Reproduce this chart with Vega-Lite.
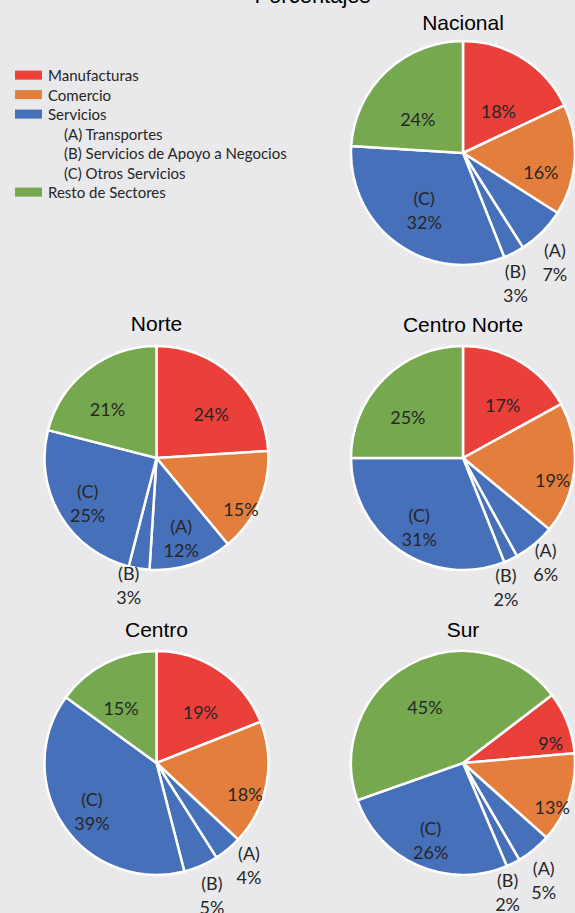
{
  "$schema": "https://vega.github.io/schema/vega-lite/v6.json",
  "background": "#e9e9eb",
  "padding": {"left": 15, "top": -15, "right": 0, "bottom": 0},
  "title": {"text": "Porcentajes", "fontSize": 22, "font": "Liberation Sans", "fontWeight": "normal", "color": "#000000", "anchor": "middle", "dx": 15, "offset": 5},
  "datasets": {
    "sectores": [
      {"region": "Nacional", "segmento": "Manufacturas", "sector": "Manufacturas", "valor": 18, "orden": 1, "etiqueta": "18%"},
      {"region": "Nacional", "segmento": "Comercio", "sector": "Comercio", "valor": 16, "orden": 2, "etiqueta": "16%"},
      {"region": "Nacional", "segmento": "(A) Transportes", "sector": "Servicios", "valor": 7, "orden": 3, "etiqueta": "(A)\n7%"},
      {"region": "Nacional", "segmento": "(B) Servicios de Apoyo a Negocios", "sector": "Servicios", "valor": 3, "orden": 4, "etiqueta": "(B)\n3%"},
      {"region": "Nacional", "segmento": "(C) Otros Servicios", "sector": "Servicios", "valor": 32, "orden": 5, "etiqueta": "(C)\n32%"},
      {"region": "Nacional", "segmento": "Resto de Sectores", "sector": "Resto de Sectores", "valor": 24, "orden": 6, "etiqueta": "24%"},
      {"region": "Norte", "segmento": "Manufacturas", "sector": "Manufacturas", "valor": 24, "orden": 1, "etiqueta": "24%"},
      {"region": "Norte", "segmento": "Comercio", "sector": "Comercio", "valor": 15, "orden": 2, "etiqueta": "15%"},
      {"region": "Norte", "segmento": "(A) Transportes", "sector": "Servicios", "valor": 12, "orden": 3, "etiqueta": "(A)\n12%"},
      {"region": "Norte", "segmento": "(B) Servicios de Apoyo a Negocios", "sector": "Servicios", "valor": 3, "orden": 4, "etiqueta": "(B)\n3%"},
      {"region": "Norte", "segmento": "(C) Otros Servicios", "sector": "Servicios", "valor": 25, "orden": 5, "etiqueta": "(C)\n25%"},
      {"region": "Norte", "segmento": "Resto de Sectores", "sector": "Resto de Sectores", "valor": 21, "orden": 6, "etiqueta": "21%"},
      {"region": "Centro Norte", "segmento": "Manufacturas", "sector": "Manufacturas", "valor": 17, "orden": 1, "etiqueta": "17%"},
      {"region": "Centro Norte", "segmento": "Comercio", "sector": "Comercio", "valor": 19, "orden": 2, "etiqueta": "19%"},
      {"region": "Centro Norte", "segmento": "(A) Transportes", "sector": "Servicios", "valor": 6, "orden": 3, "etiqueta": "(A)\n6%"},
      {"region": "Centro Norte", "segmento": "(B) Servicios de Apoyo a Negocios", "sector": "Servicios", "valor": 2, "orden": 4, "etiqueta": "(B)\n2%"},
      {"region": "Centro Norte", "segmento": "(C) Otros Servicios", "sector": "Servicios", "valor": 31, "orden": 5, "etiqueta": "(C)\n31%"},
      {"region": "Centro Norte", "segmento": "Resto de Sectores", "sector": "Resto de Sectores", "valor": 25, "orden": 6, "etiqueta": "25%"},
      {"region": "Centro", "segmento": "Manufacturas", "sector": "Manufacturas", "valor": 19, "orden": 1, "etiqueta": "19%"},
      {"region": "Centro", "segmento": "Comercio", "sector": "Comercio", "valor": 18, "orden": 2, "etiqueta": "18%"},
      {"region": "Centro", "segmento": "(A) Transportes", "sector": "Servicios", "valor": 4, "orden": 3, "etiqueta": "(A)\n4%"},
      {"region": "Centro", "segmento": "(B) Servicios de Apoyo a Negocios", "sector": "Servicios", "valor": 5, "orden": 4, "etiqueta": "(B)\n5%"},
      {"region": "Centro", "segmento": "(C) Otros Servicios", "sector": "Servicios", "valor": 39, "orden": 5, "etiqueta": "(C)\n39%"},
      {"region": "Centro", "segmento": "Resto de Sectores", "sector": "Resto de Sectores", "valor": 15, "orden": 6, "etiqueta": "15%"},
      {"region": "Sur", "segmento": "Manufacturas", "sector": "Manufacturas", "valor": 9, "orden": 1, "etiqueta": "9%"},
      {"region": "Sur", "segmento": "Comercio", "sector": "Comercio", "valor": 13, "orden": 2, "etiqueta": "13%"},
      {"region": "Sur", "segmento": "(A) Transportes", "sector": "Servicios", "valor": 5, "orden": 3, "etiqueta": "(A)\n5%"},
      {"region": "Sur", "segmento": "(B) Servicios de Apoyo a Negocios", "sector": "Servicios", "valor": 2, "orden": 4, "etiqueta": "(B)\n2%"},
      {"region": "Sur", "segmento": "(C) Otros Servicios", "sector": "Servicios", "valor": 26, "orden": 5, "etiqueta": "(C)\n26%"},
      {"region": "Sur", "segmento": "Resto de Sectores", "sector": "Resto de Sectores", "valor": 45, "orden": 6, "etiqueta": "45%"}
    ],
    "leyenda": [
      {"item": "Manufacturas", "nivel": "principal", "sector": "Manufacturas"},
      {"item": "Comercio", "nivel": "principal", "sector": "Comercio"},
      {"item": "Servicios", "nivel": "principal", "sector": "Servicios"},
      {"item": "(A) Transportes", "nivel": "sub", "sector": "Servicios"},
      {"item": "(B) Servicios de Apoyo a Negocios", "nivel": "sub", "sector": "Servicios"},
      {"item": "(C) Otros Servicios", "nivel": "sub", "sector": "Servicios"},
      {"item": "Resto de Sectores", "nivel": "principal", "sector": "Resto de Sectores"}
    ]
  },
  "columns": 2,
  "align": "each",
  "bounds": "flush",
  "spacing": {"row": 81, "column": 53},
  "concat": [
    {
      "width": 283, "height": 224,
      "data": {"name": "leyenda"},
      "encoding": {
        "y": {"field": "item", "type": "nominal", "axis": null, "scale": {"type": "point", "domain": ["Manufacturas", "Comercio", "Servicios", "(A) Transportes", "(B) Servicios de Apoyo a Negocios", "(C) Otros Servicios", "Resto de Sectores"], "range": [35, 152], "padding": 0}}
      },
      "layer": [
        {
          "transform": [{"filter": "datum.nivel == 'principal'"}],
          "mark": {"type": "point", "shape": "M-1.259,-0.4H0.741V0.27H-1.259Z", "size": 729, "filled": true, "opacity": 1, "strokeWidth": 0},
          "encoding": {
            "x": {"datum": "muestra", "type": "nominal", "axis": null, "scale": {"type": "point", "domain": ["muestra", "principal", "sub"], "range": [17, 49], "padding": 0}},
            "color": {"field": "sector", "type": "nominal", "legend": null, "scale": {"domain": ["Manufacturas", "Comercio", "Servicios", "Resto de Sectores"], "range": ["#eb3f3a", "#e47e3c", "#4670b9", "#76a94f"]}}
          }
        },
        {
          "mark": {"type": "text", "align": "left", "baseline": "middle", "font": "Lato", "fontSize": 15, "fill": "#262626"},
          "encoding": {
            "x": {"field": "nivel", "type": "nominal", "axis": null, "scale": {"type": "point", "domain": ["muestra", "principal", "sub"], "range": [17, 49], "padding": 0}},
            "text": {"field": "item"}
          }
        }
      ]
    },
    {
      "title": {"text": "Nacional", "offset": 2},
      "width": 224, "height": 224,
      "data": {"name": "sectores"},
      "transform": [{"filter": "datum.region == 'Nacional'"}],
      "encoding": {
        "theta": {"field": "valor", "type": "quantitative", "stack": true},
        "order": {"field": "orden", "type": "quantitative"},
        "detail": {"field": "segmento"}
      },
      "layer": [
        {"mark": {"type": "arc", "outerRadius": 112, "stroke": "#ffffff", "strokeWidth": 2.5},
         "encoding": {"color": {"field": "sector", "type": "nominal", "legend": null, "scale": {"domain": ["Manufacturas", "Comercio", "Servicios", "Resto de Sectores"], "range": ["#eb3f3a", "#e47e3c", "#4670b9", "#76a94f"]}}}},
        {"mark": {"type": "text",
                  "radius": {"expr": "datum.valor < 8 ? 144 : (datum.orden == 2 || datum.valor < 10 ? 78 : 66)"},
                  "dx": {"expr": "datum.valor < 8 ? (datum.orden == 3 ? -10 : -13) : 0"},
                  "dy": {"expr": "datum.valor < 8 ? (datum.orden == 3 ? -3 : -8) : (datum.sector == 'Servicios' ? -6 : 16)"},
                  "font": "Lato", "fontSize": 18, "fill": "#262626", "lineBreak": "\n", "lineHeight": 24, "baseline": "middle"},
         "encoding": {"text": {"field": "etiqueta"}}}
      ]
    },
    {
      "title": {"text": "Norte", "offset": 6},
      "width": 283, "height": 224,
      "data": {"name": "sectores"},
      "transform": [{"filter": "datum.region == 'Norte'"}],
      "encoding": {
        "theta": {"field": "valor", "type": "quantitative", "stack": true},
        "order": {"field": "orden", "type": "quantitative"},
        "detail": {"field": "segmento"}
      },
      "layer": [
        {"mark": {"type": "arc", "outerRadius": 112, "stroke": "#ffffff", "strokeWidth": 2.5},
         "encoding": {"color": {"field": "sector", "type": "nominal", "legend": null, "scale": {"domain": ["Manufacturas", "Comercio", "Servicios", "Resto de Sectores"], "range": ["#eb3f3a", "#e47e3c", "#4670b9", "#76a94f"]}}}},
        {"mark": {"type": "text",
                  "radius": {"expr": "datum.valor < 8 ? 133 : (datum.orden == 2 || datum.valor < 10 ? 92 : 80)"},
                  "dx": {"expr": "datum.valor < 8 ? -7 : 0"},
                  "dy": {"expr": "datum.valor < 8 ? -14 : (datum.sector == 'Servicios' ? -6 : 16)"},
                  "font": "Lato", "fontSize": 18, "fill": "#262626", "lineBreak": "\n", "lineHeight": 24, "baseline": "middle"},
         "encoding": {"text": {"field": "etiqueta"}}}
      ]
    },
    {
      "title": {"text": "Centro Norte", "offset": 5},
      "width": 224, "height": 224,
      "data": {"name": "sectores"},
      "transform": [{"filter": "datum.region == 'Centro Norte'"}],
      "encoding": {
        "theta": {"field": "valor", "type": "quantitative", "stack": true},
        "order": {"field": "orden", "type": "quantitative"},
        "detail": {"field": "segmento"}
      },
      "layer": [
        {"mark": {"type": "arc", "outerRadius": 112, "stroke": "#ffffff", "strokeWidth": 2.5},
         "encoding": {"color": {"field": "sector", "type": "nominal", "legend": null, "scale": {"domain": ["Manufacturas", "Comercio", "Servicios", "Resto de Sectores"], "range": ["#eb3f3a", "#e47e3c", "#4670b9", "#76a94f"]}}}},
        {"mark": {"type": "text",
                  "radius": {"expr": "datum.valor < 8 ? 136 : (datum.orden == 2 || datum.valor < 10 ? 90 : 78)"},
                  "dx": {"expr": "datum.valor < 8 ? (datum.orden == 3 ? -4 : -15) : 0"},
                  "dy": {"expr": "datum.valor < 8 ? (datum.orden == 3 ? -11 : -4) : (datum.sector == 'Servicios' ? -6 : 16)"},
                  "font": "Lato", "fontSize": 18, "fill": "#262626", "lineBreak": "\n", "lineHeight": 24, "baseline": "middle"},
         "encoding": {"text": {"field": "etiqueta"}}}
      ]
    },
    {
      "title": {"text": "Centro", "offset": 5},
      "width": 283, "height": 224,
      "data": {"name": "sectores"},
      "transform": [{"filter": "datum.region == 'Centro'"}],
      "encoding": {
        "theta": {"field": "valor", "type": "quantitative", "stack": true},
        "order": {"field": "orden", "type": "quantitative"},
        "detail": {"field": "segmento"}
      },
      "layer": [
        {"mark": {"type": "arc", "outerRadius": 112, "stroke": "#ffffff", "strokeWidth": 2.5},
         "encoding": {"color": {"field": "sector", "type": "nominal", "legend": null, "scale": {"domain": ["Manufacturas", "Comercio", "Servicios", "Resto de Sectores"], "range": ["#eb3f3a", "#e47e3c", "#4670b9", "#76a94f"]}}}},
        {"mark": {"type": "text",
                  "radius": {"expr": "datum.valor < 8 ? 142 : (datum.orden == 2 || datum.valor < 10 ? 90 : 78)"},
                  "dx": {"expr": "datum.valor < 8 ? (datum.orden == 3 ? 2 : -1) : 0"},
                  "dy": {"expr": "datum.valor < 8 ? (datum.orden == 3 ? -17 : -8) : (datum.sector == 'Servicios' ? -6 : 16)"},
                  "font": "Lato", "fontSize": 18, "fill": "#262626", "lineBreak": "\n", "lineHeight": 24, "baseline": "middle"},
         "encoding": {"text": {"field": "etiqueta"}}}
      ]
    },
    {
      "title": {"text": "Sur", "offset": 5},
      "width": 224, "height": 224,
      "data": {"name": "sectores"},
      "transform": [{"filter": "datum.region == 'Sur'"}],
      "encoding": {
        "theta": {"field": "valor", "type": "quantitative", "stack": true, "scale": {"range": [0.918, 7.2012]}},
        "order": {"field": "orden", "type": "quantitative"},
        "detail": {"field": "segmento"}
      },
      "layer": [
        {"mark": {"type": "arc", "outerRadius": 112, "stroke": "#ffffff", "strokeWidth": 2.5},
         "encoding": {"color": {"field": "sector", "type": "nominal", "legend": null, "scale": {"domain": ["Manufacturas", "Comercio", "Servicios", "Resto de Sectores"], "range": ["#eb3f3a", "#e47e3c", "#4670b9", "#76a94f"]}}}},
        {"mark": {"type": "text",
                  "radius": {"expr": "datum.valor < 8 ? 142 : (datum.orden == 2 || datum.valor < 10 ? 94 : 80)"},
                  "dx": {"expr": "datum.valor < 8 ? (datum.orden == 3 ? -9 : -19) : 0"},
                  "dy": {"expr": "datum.valor < 8 ? (datum.orden == 3 ? -3 : -8) : (datum.sector == 'Servicios' ? -6 : 16)"},
                  "font": "Lato", "fontSize": 18, "fill": "#262626", "lineBreak": "\n", "lineHeight": 24, "baseline": "middle"},
         "encoding": {"text": {"field": "etiqueta"}}}
      ]
    }
  ],
  "resolve": {"scale": {"theta": "independent", "x": "independent", "y": "independent"}},
  "config": {
    "view": {"stroke": null},
    "title": {"font": "Liberation Sans", "fontSize": 21, "fontWeight": "normal", "color": "#000000"}
  }
}
